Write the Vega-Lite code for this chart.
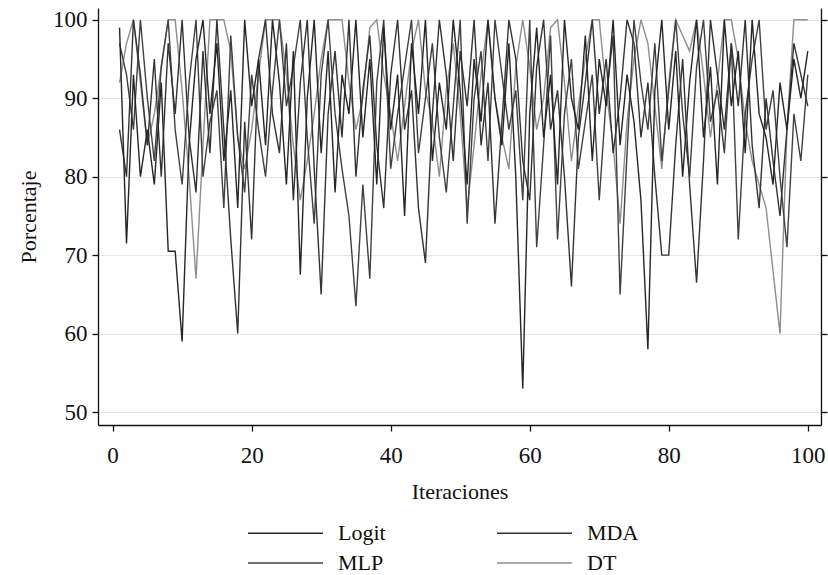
{
  "$schema": "https://vega.github.io/schema/vega-lite/v6.json",
  "width": 723,
  "height": 417,
  "autosize": {"type": "none"},
  "padding": {"left": 98, "top": 8, "right": 7, "bottom": 150},
  "background": "white",
  "config": {
    "view": {"stroke": null},
    "font": "Liberation Serif",
    "axis": {"labelFont": "Liberation Serif", "titleFont": "Liberation Serif", "labelColor": "#111", "titleColor": "#111", "titleFontWeight": "normal", "domainColor": "#111", "tickColor": "#111", "domainWidth": 1.3, "tickWidth": 1.3}
  },
  "data": {"values": [
    {"i":1,"s":"DT","v":92},{"i":2,"s":"DT","v":97},{"i":3,"s":"DT","v":100},{"i":4,"s":"DT","v":92},{"i":5,"s":"DT","v":84},{"i":6,"s":"DT","v":88},{"i":7,"s":"DT","v":94},{"i":8,"s":"DT","v":100},{"i":9,"s":"DT","v":100},{"i":10,"s":"DT","v":91},
    {"i":11,"s":"DT","v":80},{"i":12,"s":"DT","v":67},{"i":13,"s":"DT","v":84},{"i":14,"s":"DT","v":100},{"i":15,"s":"DT","v":100},{"i":16,"s":"DT","v":100},{"i":17,"s":"DT","v":96},{"i":18,"s":"DT","v":85},{"i":19,"s":"DT","v":81},{"i":20,"s":"DT","v":86},
    {"i":21,"s":"DT","v":93},{"i":22,"s":"DT","v":100},{"i":23,"s":"DT","v":100},{"i":24,"s":"DT","v":100},{"i":25,"s":"DT","v":93},{"i":26,"s":"DT","v":84},{"i":27,"s":"DT","v":77},{"i":28,"s":"DT","v":82},{"i":29,"s":"DT","v":88},{"i":30,"s":"DT","v":95},
    {"i":31,"s":"DT","v":100},{"i":32,"s":"DT","v":100},{"i":33,"s":"DT","v":100},{"i":34,"s":"DT","v":92},{"i":35,"s":"DT","v":86},{"i":36,"s":"DT","v":90},{"i":37,"s":"DT","v":99},{"i":38,"s":"DT","v":100},{"i":39,"s":"DT","v":93},{"i":40,"s":"DT","v":88},
    {"i":41,"s":"DT","v":82},{"i":42,"s":"DT","v":89},{"i":43,"s":"DT","v":96},{"i":44,"s":"DT","v":100},{"i":45,"s":"DT","v":91},{"i":46,"s":"DT","v":87},{"i":47,"s":"DT","v":80},{"i":48,"s":"DT","v":91},{"i":49,"s":"DT","v":97},{"i":50,"s":"DT","v":88},
    {"i":51,"s":"DT","v":76},{"i":52,"s":"DT","v":84},{"i":53,"s":"DT","v":93},{"i":54,"s":"DT","v":100},{"i":55,"s":"DT","v":90},{"i":56,"s":"DT","v":85},{"i":57,"s":"DT","v":81},{"i":58,"s":"DT","v":94},{"i":59,"s":"DT","v":100},{"i":60,"s":"DT","v":94},
    {"i":61,"s":"DT","v":86},{"i":62,"s":"DT","v":90},{"i":63,"s":"DT","v":99},{"i":64,"s":"DT","v":100},{"i":65,"s":"DT","v":92},{"i":66,"s":"DT","v":82},{"i":67,"s":"DT","v":89},{"i":68,"s":"DT","v":95},{"i":69,"s":"DT","v":100},{"i":70,"s":"DT","v":100},
    {"i":71,"s":"DT","v":91},{"i":72,"s":"DT","v":84},{"i":73,"s":"DT","v":74},{"i":74,"s":"DT","v":87},{"i":75,"s":"DT","v":95},{"i":76,"s":"DT","v":100},{"i":77,"s":"DT","v":97},{"i":78,"s":"DT","v":89},{"i":79,"s":"DT","v":81},{"i":80,"s":"DT","v":92},
    {"i":81,"s":"DT","v":100},{"i":82,"s":"DT","v":98},{"i":83,"s":"DT","v":96},{"i":84,"s":"DT","v":100},{"i":85,"s":"DT","v":93},{"i":86,"s":"DT","v":85},{"i":87,"s":"DT","v":92},{"i":88,"s":"DT","v":100},{"i":89,"s":"DT","v":100},{"i":90,"s":"DT","v":95},
    {"i":91,"s":"DT","v":87},{"i":92,"s":"DT","v":82},{"i":93,"s":"DT","v":79},{"i":94,"s":"DT","v":76},{"i":95,"s":"DT","v":68},{"i":96,"s":"DT","v":60},{"i":97,"s":"DT","v":86},{"i":98,"s":"DT","v":100},{"i":99,"s":"DT","v":100},{"i":100,"s":"DT","v":100},

    {"i":1,"s":"MLP","v":97},{"i":2,"s":"MLP","v":93},{"i":3,"s":"MLP","v":86},{"i":4,"s":"MLP","v":100},{"i":5,"s":"MLP","v":90},{"i":6,"s":"MLP","v":82},{"i":7,"s":"MLP","v":94},{"i":8,"s":"MLP","v":100},{"i":9,"s":"MLP","v":86},{"i":10,"s":"MLP","v":79},
    {"i":11,"s":"MLP","v":92},{"i":12,"s":"MLP","v":100},{"i":13,"s":"MLP","v":80},{"i":14,"s":"MLP","v":87},{"i":15,"s":"MLP","v":91},{"i":16,"s":"MLP","v":76},{"i":17,"s":"MLP","v":98},{"i":18,"s":"MLP","v":85},{"i":19,"s":"MLP","v":78},{"i":20,"s":"MLP","v":93},
    {"i":21,"s":"MLP","v":86},{"i":22,"s":"MLP","v":80},{"i":23,"s":"MLP","v":91},{"i":24,"s":"MLP","v":100},{"i":25,"s":"MLP","v":89},{"i":26,"s":"MLP","v":94},{"i":27,"s":"MLP","v":100},{"i":28,"s":"MLP","v":85},{"i":29,"s":"MLP","v":74},{"i":30,"s":"MLP","v":93},
    {"i":31,"s":"MLP","v":100},{"i":32,"s":"MLP","v":88},{"i":33,"s":"MLP","v":81},{"i":34,"s":"MLP","v":75},{"i":35,"s":"MLP","v":63.5},{"i":36,"s":"MLP","v":79},{"i":37,"s":"MLP","v":67},{"i":38,"s":"MLP","v":92},{"i":39,"s":"MLP","v":100},{"i":40,"s":"MLP","v":81},
    {"i":41,"s":"MLP","v":88},{"i":42,"s":"MLP","v":94},{"i":43,"s":"MLP","v":100},{"i":44,"s":"MLP","v":83},{"i":45,"s":"MLP","v":90},{"i":46,"s":"MLP","v":97},{"i":47,"s":"MLP","v":85},{"i":48,"s":"MLP","v":78},{"i":49,"s":"MLP","v":89},{"i":50,"s":"MLP","v":100},
    {"i":51,"s":"MLP","v":74},{"i":52,"s":"MLP","v":90},{"i":53,"s":"MLP","v":96},{"i":54,"s":"MLP","v":82},{"i":55,"s":"MLP","v":100},{"i":56,"s":"MLP","v":93},{"i":57,"s":"MLP","v":86},{"i":58,"s":"MLP","v":91},{"i":59,"s":"MLP","v":77},{"i":60,"s":"MLP","v":100},
    {"i":61,"s":"MLP","v":71},{"i":62,"s":"MLP","v":84},{"i":63,"s":"MLP","v":98},{"i":64,"s":"MLP","v":72},{"i":65,"s":"MLP","v":88},{"i":66,"s":"MLP","v":95},{"i":67,"s":"MLP","v":81},{"i":68,"s":"MLP","v":87},{"i":69,"s":"MLP","v":93},{"i":70,"s":"MLP","v":77},
    {"i":71,"s":"MLP","v":90},{"i":72,"s":"MLP","v":98},{"i":73,"s":"MLP","v":65},{"i":74,"s":"MLP","v":83},{"i":75,"s":"MLP","v":100},{"i":76,"s":"MLP","v":92},{"i":77,"s":"MLP","v":86},{"i":78,"s":"MLP","v":97},{"i":79,"s":"MLP","v":82},{"i":80,"s":"MLP","v":91},
    {"i":81,"s":"MLP","v":100},{"i":82,"s":"MLP","v":88},{"i":83,"s":"MLP","v":80},{"i":84,"s":"MLP","v":94},{"i":85,"s":"MLP","v":100},{"i":86,"s":"MLP","v":87},{"i":87,"s":"MLP","v":91},{"i":88,"s":"MLP","v":83},{"i":89,"s":"MLP","v":97},{"i":90,"s":"MLP","v":72},
    {"i":91,"s":"MLP","v":88},{"i":92,"s":"MLP","v":95},{"i":93,"s":"MLP","v":100},{"i":94,"s":"MLP","v":86},{"i":95,"s":"MLP","v":91},{"i":96,"s":"MLP","v":80},{"i":97,"s":"MLP","v":71},{"i":98,"s":"MLP","v":88},{"i":99,"s":"MLP","v":82},{"i":100,"s":"MLP","v":93},

    {"i":1,"s":"MDA","v":86},{"i":2,"s":"MDA","v":80},{"i":3,"s":"MDA","v":100},{"i":4,"s":"MDA","v":93},{"i":5,"s":"MDA","v":84},{"i":6,"s":"MDA","v":95},{"i":7,"s":"MDA","v":80},{"i":8,"s":"MDA","v":97},{"i":9,"s":"MDA","v":88},{"i":10,"s":"MDA","v":100},
    {"i":11,"s":"MDA","v":85},{"i":12,"s":"MDA","v":78},{"i":13,"s":"MDA","v":96},{"i":14,"s":"MDA","v":83},{"i":15,"s":"MDA","v":100},{"i":16,"s":"MDA","v":86},{"i":17,"s":"MDA","v":72},{"i":18,"s":"MDA","v":60},{"i":19,"s":"MDA","v":87},{"i":20,"s":"MDA","v":72},
    {"i":21,"s":"MDA","v":95},{"i":22,"s":"MDA","v":100},{"i":23,"s":"MDA","v":88},{"i":24,"s":"MDA","v":83},{"i":25,"s":"MDA","v":97},{"i":26,"s":"MDA","v":77},{"i":27,"s":"MDA","v":92},{"i":28,"s":"MDA","v":100},{"i":29,"s":"MDA","v":81},{"i":30,"s":"MDA","v":65},
    {"i":31,"s":"MDA","v":88},{"i":32,"s":"MDA","v":96},{"i":33,"s":"MDA","v":85},{"i":34,"s":"MDA","v":100},{"i":35,"s":"MDA","v":80},{"i":36,"s":"MDA","v":91},{"i":37,"s":"MDA","v":98},{"i":38,"s":"MDA","v":84},{"i":39,"s":"MDA","v":76},{"i":40,"s":"MDA","v":93},
    {"i":41,"s":"MDA","v":100},{"i":42,"s":"MDA","v":86},{"i":43,"s":"MDA","v":91},{"i":44,"s":"MDA","v":76},{"i":45,"s":"MDA","v":69},{"i":46,"s":"MDA","v":88},{"i":47,"s":"MDA","v":100},{"i":48,"s":"MDA","v":93},{"i":49,"s":"MDA","v":82},{"i":50,"s":"MDA","v":96},
    {"i":51,"s":"MDA","v":89},{"i":52,"s":"MDA","v":100},{"i":53,"s":"MDA","v":84},{"i":54,"s":"MDA","v":92},{"i":55,"s":"MDA","v":74},{"i":56,"s":"MDA","v":87},{"i":57,"s":"MDA","v":100},{"i":58,"s":"MDA","v":95},{"i":59,"s":"MDA","v":82},{"i":60,"s":"MDA","v":77},
    {"i":61,"s":"MDA","v":94},{"i":62,"s":"MDA","v":100},{"i":63,"s":"MDA","v":86},{"i":64,"s":"MDA","v":91},{"i":65,"s":"MDA","v":80},{"i":66,"s":"MDA","v":66},{"i":67,"s":"MDA","v":85},{"i":68,"s":"MDA","v":92},{"i":69,"s":"MDA","v":100},{"i":70,"s":"MDA","v":88},
    {"i":71,"s":"MDA","v":95},{"i":72,"s":"MDA","v":83},{"i":73,"s":"MDA","v":90},{"i":74,"s":"MDA","v":100},{"i":75,"s":"MDA","v":97},{"i":76,"s":"MDA","v":85},{"i":77,"s":"MDA","v":92},{"i":78,"s":"MDA","v":80},{"i":79,"s":"MDA","v":70},{"i":80,"s":"MDA","v":70},
    {"i":81,"s":"MDA","v":84},{"i":82,"s":"MDA","v":95},{"i":83,"s":"MDA","v":79},{"i":84,"s":"MDA","v":66.5},{"i":85,"s":"MDA","v":82},{"i":86,"s":"MDA","v":100},{"i":87,"s":"MDA","v":93},{"i":88,"s":"MDA","v":86},{"i":89,"s":"MDA","v":97},{"i":90,"s":"MDA","v":89},
    {"i":91,"s":"MDA","v":100},{"i":92,"s":"MDA","v":84},{"i":93,"s":"MDA","v":76},{"i":94,"s":"MDA","v":90},{"i":95,"s":"MDA","v":82},{"i":96,"s":"MDA","v":75},{"i":97,"s":"MDA","v":86},{"i":98,"s":"MDA","v":97},{"i":99,"s":"MDA","v":93},{"i":100,"s":"MDA","v":89},

    {"i":1,"s":"Logit","v":99},{"i":2,"s":"Logit","v":71.5},{"i":3,"s":"Logit","v":93},{"i":4,"s":"Logit","v":80},{"i":5,"s":"Logit","v":86},{"i":6,"s":"Logit","v":79},{"i":7,"s":"Logit","v":92},{"i":8,"s":"Logit","v":70.5},{"i":9,"s":"Logit","v":70.5},{"i":10,"s":"Logit","v":59},
    {"i":11,"s":"Logit","v":84},{"i":12,"s":"Logit","v":95},{"i":13,"s":"Logit","v":100},{"i":14,"s":"Logit","v":88},{"i":15,"s":"Logit","v":97},{"i":16,"s":"Logit","v":82},{"i":17,"s":"Logit","v":91},{"i":18,"s":"Logit","v":76},{"i":19,"s":"Logit","v":100},{"i":20,"s":"Logit","v":89},
    {"i":21,"s":"Logit","v":95},{"i":22,"s":"Logit","v":84},{"i":23,"s":"Logit","v":100},{"i":24,"s":"Logit","v":92},{"i":25,"s":"Logit","v":79},{"i":26,"s":"Logit","v":96},{"i":27,"s":"Logit","v":67.5},{"i":28,"s":"Logit","v":90},{"i":29,"s":"Logit","v":100},{"i":30,"s":"Logit","v":83},
    {"i":31,"s":"Logit","v":96},{"i":32,"s":"Logit","v":78},{"i":33,"s":"Logit","v":93},{"i":34,"s":"Logit","v":88},{"i":35,"s":"Logit","v":100},{"i":36,"s":"Logit","v":85},{"i":37,"s":"Logit","v":95},{"i":38,"s":"Logit","v":79},{"i":39,"s":"Logit","v":99},{"i":40,"s":"Logit","v":86},
    {"i":41,"s":"Logit","v":93},{"i":42,"s":"Logit","v":75},{"i":43,"s":"Logit","v":97},{"i":44,"s":"Logit","v":88},{"i":45,"s":"Logit","v":100},{"i":46,"s":"Logit","v":82},{"i":47,"s":"Logit","v":92},{"i":48,"s":"Logit","v":86},{"i":49,"s":"Logit","v":100},{"i":50,"s":"Logit","v":91},
    {"i":51,"s":"Logit","v":79},{"i":52,"s":"Logit","v":95},{"i":53,"s":"Logit","v":87},{"i":54,"s":"Logit","v":100},{"i":55,"s":"Logit","v":90},{"i":56,"s":"Logit","v":84},{"i":57,"s":"Logit","v":97},{"i":58,"s":"Logit","v":80},{"i":59,"s":"Logit","v":53},{"i":60,"s":"Logit","v":88},
    {"i":61,"s":"Logit","v":99},{"i":62,"s":"Logit","v":85},{"i":63,"s":"Logit","v":93},{"i":64,"s":"Logit","v":79},{"i":65,"s":"Logit","v":100},{"i":66,"s":"Logit","v":90},{"i":67,"s":"Logit","v":86},{"i":68,"s":"Logit","v":98},{"i":69,"s":"Logit","v":82},{"i":70,"s":"Logit","v":95},
    {"i":71,"s":"Logit","v":89},{"i":72,"s":"Logit","v":100},{"i":73,"s":"Logit","v":84},{"i":74,"s":"Logit","v":93},{"i":75,"s":"Logit","v":87},{"i":76,"s":"Logit","v":77},{"i":77,"s":"Logit","v":58},{"i":78,"s":"Logit","v":91},{"i":79,"s":"Logit","v":100},{"i":80,"s":"Logit","v":86},
    {"i":81,"s":"Logit","v":96},{"i":82,"s":"Logit","v":80},{"i":83,"s":"Logit","v":92},{"i":84,"s":"Logit","v":100},{"i":85,"s":"Logit","v":85},{"i":86,"s":"Logit","v":94},{"i":87,"s":"Logit","v":79},{"i":88,"s":"Logit","v":100},{"i":89,"s":"Logit","v":89},{"i":90,"s":"Logit","v":96},
    {"i":91,"s":"Logit","v":83},{"i":92,"s":"Logit","v":100},{"i":93,"s":"Logit","v":88},{"i":94,"s":"Logit","v":85},{"i":95,"s":"Logit","v":79},{"i":96,"s":"Logit","v":92},{"i":97,"s":"Logit","v":86},{"i":98,"s":"Logit","v":95},{"i":99,"s":"Logit","v":90},{"i":100,"s":"Logit","v":96}
  ]},
  "layer": [
    {
      "mark": {"type": "line", "strokeWidth": 1.4},
      "encoding": {
        "x": {"field": "i", "type": "quantitative", "scale": {"domain": [-2.1, 101.9], "nice": false, "zero": false},
              "axis": {"values": [0, 20, 40, 60, 80, 100], "title": "Iteraciones", "grid": false, "labelFontSize": 23, "titleFontSize": 22, "tickSize": 6, "labelPadding": 13, "titlePadding": 14, "labelFlush": false}},
        "y": {"field": "v", "type": "quantitative", "scale": {"domain": [48.35, 101.5], "nice": false, "zero": false},
              "axis": {"values": [50, 60, 70, 80, 90, 100], "title": "Porcentaje", "grid": true, "gridColor": "#e6e6e6", "gridWidth": 1.2, "labelFontSize": 23, "titleFontSize": 22, "tickSize": 6, "labelPadding": 5, "titlePadding": 12, "labelFlush": false}},
        "color": {"field": "s", "type": "nominal",
                  "scale": {"domain": ["Logit", "MDA", "MLP", "DT"], "range": ["#262626", "#333333", "#404040", "#8e8e8e"]},
                  "legend": {"orient": "none", "legendX": 174, "legendY": 511.5, "direction": "horizontal", "columns": 2, "title": null, "padding": 0,
                             "symbolType": "M-3,0H3", "symbolSize": 625, "symbolStrokeWidth": 1.4,
                             "labelFont": "Liberation Serif", "labelFontSize": 22, "labelColor": "#111", "labelOffset": 39,
                             "columnPadding": 108, "rowPadding": 5}}
      }
    },
    {
      "mark": {"type": "line", "opacity": 0},
      "encoding": {
        "x": {"field": "i", "type": "quantitative"},
        "y": {"field": "v", "type": "quantitative", "axis": {"orient": "right", "labels": false, "title": null, "grid": false, "values": [50, 60, 70, 80, 90, 100], "tickSize": 6}},
        "detail": {"field": "s", "type": "nominal"}
      }
    }
  ],
  "resolve": {"axis": {"y": "independent"}}
}
